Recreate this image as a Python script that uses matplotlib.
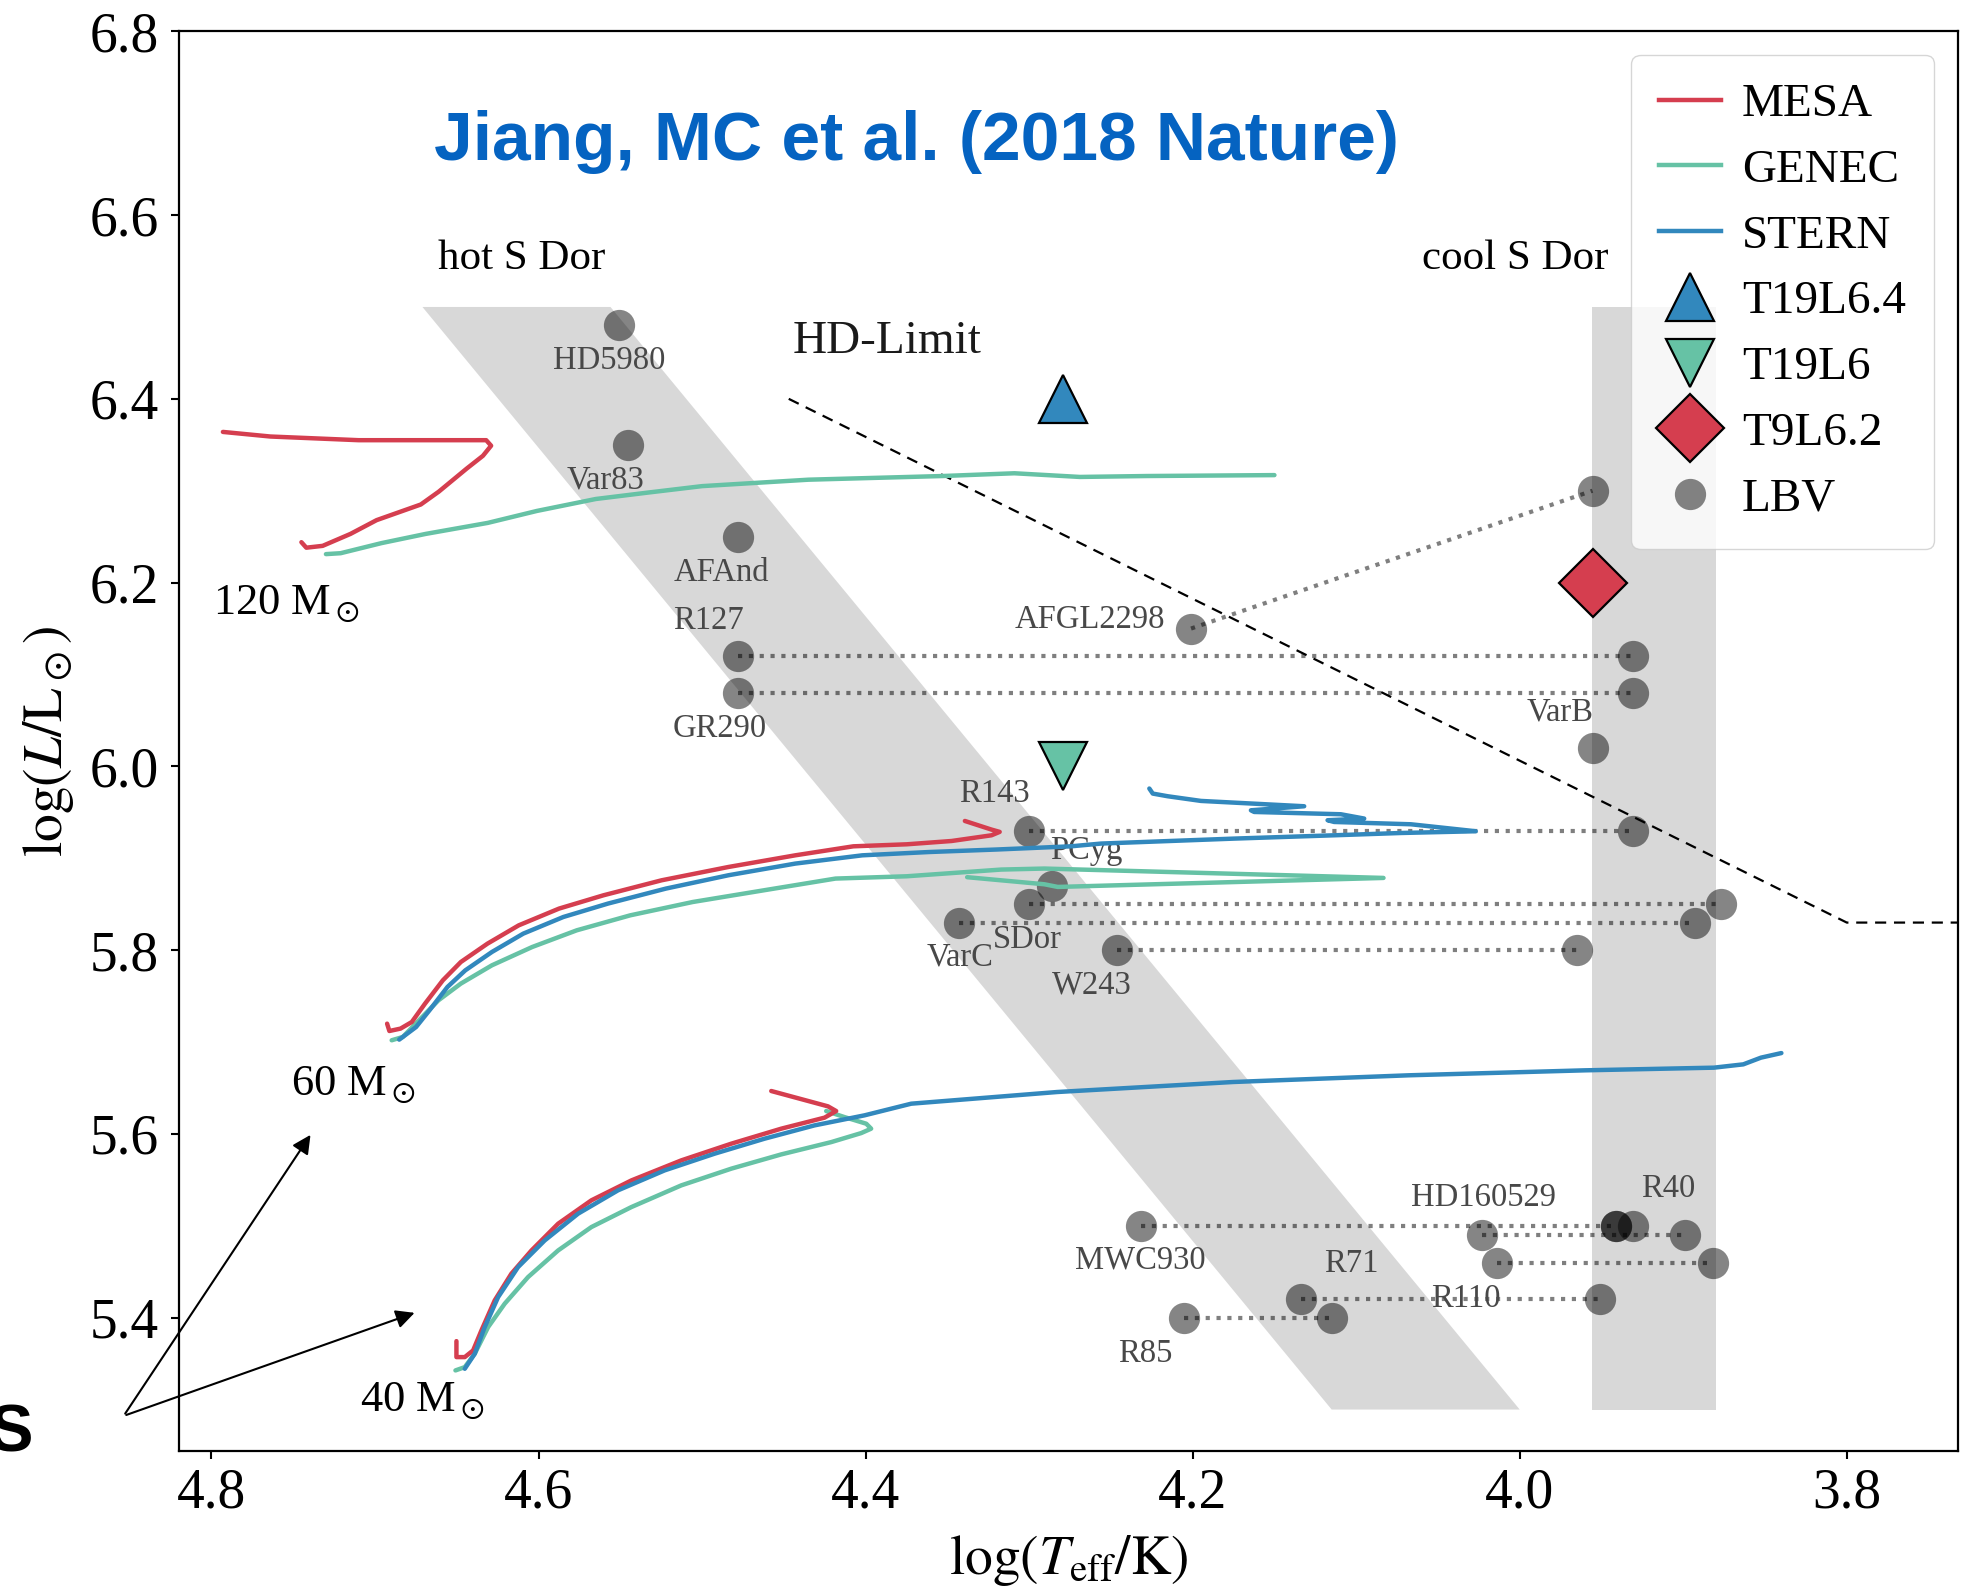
import matplotlib
matplotlib.use("Agg")
import matplotlib.pyplot as plt
from matplotlib.lines import Line2D
from matplotlib.patches import Polygon

plt.rcParams.update({
    "font.family": "serif",
    "font.serif": ["Liberation Serif", "DejaVu Serif"],
    "mathtext.fontset": "stix",
    "axes.linewidth": 1.6,
    "xtick.major.width": 1.5, "ytick.major.width": 1.5,
    "xtick.major.size": 6, "ytick.major.size": 6,
    "xtick.major.pad": 6, "ytick.major.pad": 8,
})

RED, GREEN, BLUE = "#D53E4F", "#66C2A5", "#3288BD"
LBV_INK = "#484848"
LBV_FACE = (0, 0, 0, 0.48)

# ---- evolutionary tracks: log Teff, log L ----
MESA_120_T = [4.745, 4.742, 4.732, 4.715, 4.699, 4.672, 4.661, 4.644, 4.634, 4.629, 4.632, 4.710, 4.764, 4.793]
MESA_120_L = [6.244, 6.238, 6.240, 6.253, 6.268, 6.285, 6.299, 6.324, 6.338, 6.349, 6.355, 6.355, 6.359, 6.364]
GENEC_120_T = [4.730, 4.721, 4.696, 4.669, 4.631, 4.601, 4.565, 4.533, 4.500, 4.435, 4.353, 4.309, 4.269, 4.228, 4.150]
GENEC_120_L = [6.231, 6.232, 6.243, 6.253, 6.265, 6.278, 6.291, 6.298, 6.305, 6.312, 6.316, 6.319, 6.315, 6.316, 6.317]

MESA_60_T = [4.6926, 4.6912, 4.6844, 4.6775, 4.6694, 4.6585, 4.6475, 4.6312, 4.6121, 4.5875, 4.5603,
             4.5248, 4.4839, 4.443, 4.4075, 4.3748, 4.3474, 4.323, 4.318, 4.323, 4.3393]
MESA_60_L = [5.720, 5.712, 5.7146, 5.7218, 5.7418, 5.7672, 5.7871, 5.8071, 5.827, 5.8452, 5.8597,
             5.876, 5.8905, 5.9032, 5.913, 5.9152, 5.9188, 5.925, 5.9287, 5.9312, 5.9406]
STERN_60_T = [4.6852, 4.6749, 4.6667, 4.6557, 4.6448, 4.6285, 4.6093, 4.5848, 4.5575, 4.5221, 4.4839,
              4.443, 4.402, 4.3611, 4.3202, 4.2744, 4.256, 4.1746, 4.1135, 4.0727, 4.0269, 4.0666,
              4.1135, 4.1175, 4.0951, 4.1094, 4.1624, 4.1644, 4.1318, 4.1949, 4.2153, 4.2244, 4.2265]
STERN_60_L = [5.7026, 5.7163, 5.7345, 5.7599, 5.778, 5.798, 5.818, 5.8361, 5.8507, 5.867, 5.8815,
              5.8942, 5.9032, 5.9068, 5.9095, 5.913, 5.916, 5.9214, 5.925, 5.9275, 5.9294, 5.937,
              5.9395, 5.9414, 5.9432, 5.9479, 5.9504, 5.9522, 5.9566, 5.9624, 5.9675, 5.9704, 5.9759]
GENEC_60_T = [4.6898, 4.683, 4.6721, 4.6612, 4.6475, 4.6285, 4.6039, 4.5766, 4.5439, 4.5057, 4.462,
              4.4184, 4.3748, 4.3171, 4.2907, 4.0833, 4.2825, 4.2907, 4.3379]
GENEC_60_L = [5.7019, 5.7055, 5.7255, 5.7454, 5.7636, 5.7835, 5.8034, 5.8216, 5.8379, 5.8524, 5.8652,
              5.8779, 5.8804, 5.8877, 5.8888, 5.8786, 5.8688, 5.8717, 5.8794]

MESA_40_T = [4.6502, 4.6502, 4.6451, 4.640, 4.6349, 4.6268, 4.6166, 4.6043, 4.588, 4.5677, 4.5432,
             4.5127, 4.4821, 4.4516, 4.4251, 4.418, 4.423, 4.4577]
MESA_40_L = [5.3745, 5.3571, 5.3571, 5.3644, 5.3862, 5.4188, 5.4479, 5.4732, 5.5023, 5.5277, 5.5494,
             5.5712, 5.5894, 5.6057, 5.6177, 5.6249, 5.630, 5.6467]
STERN_40_T = [4.6451, 4.639, 4.6329, 4.6247, 4.6125, 4.5962, 4.5758, 4.5514, 4.5229, 4.4923, 4.4618,
              4.4312, 4.4007, 4.3721, 4.2829, 4.1753, 4.0677, 3.9602, 3.8813, 3.8633, 3.8525, 3.840]
STERN_40_L = [5.3444, 5.3608, 5.3898, 5.4224, 5.4551, 5.4841, 5.5132, 5.5386, 5.5603, 5.5785, 5.5948,
              5.6093, 5.6202, 5.6329, 5.6456, 5.6565, 5.6638, 5.6692, 5.6721, 5.6757, 5.683, 5.688]
GENEC_40_T = [4.6508, 4.6451, 4.639, 4.6308, 4.6207, 4.6064, 4.588, 4.5677, 4.5432, 4.5127, 4.4821,
              4.4516, 4.421, 4.4027, 4.3966, 4.3996, 4.4129, 4.4241]
GENEC_40_L = [5.3426, 5.3462, 5.3608, 5.3898, 5.4152, 5.4442, 5.4732, 5.4986, 5.5204, 5.544, 5.5622,
              5.5777, 5.5911, 5.6009, 5.6057, 5.6111, 5.6183, 5.6249]

# ---- LBVs: hot / cool states joined by a dotted line ----
PAIR_HOT_T = [4.478, 4.478, 4.201, 4.300, 4.300, 4.343, 4.246, 4.2315, 4.023, 4.014, 4.134, 4.205]
PAIR_HOT_L = [6.12, 6.08, 6.15, 5.93, 5.85, 5.83, 5.80, 5.50, 5.49, 5.46, 5.42, 5.40]
PAIR_COOL_T = [3.931, 3.931, 3.9555, 3.931, 3.877, 3.893, 3.965, 3.941, 3.899, 3.882, 3.951, 4.115]
PAIR_COOL_L = [6.12, 6.08, 6.30, 5.93, 5.85, 5.83, 5.80, 5.50, 5.49, 5.46, 5.42, 5.40]
SINGLE_T = [4.551, 4.545, 4.478, 3.955, 4.286, 3.941, 3.931]
SINGLE_L = [6.48, 6.35, 6.25, 6.02, 5.87, 5.50, 5.50]

LBV_NAMES = ["HD5980", "Var83", "AFAnd", "R127", "GR290", "AFGL2298", "VarB", "R143", "PCyg",
             "SDor", "VarC", "W243", "MWC930", "R85", "R71", "R110", "HD160529", "R40"]
LBV_NAME_T = [4.557, 4.559, 4.488, 4.496, 4.489, 4.263, 3.975, 4.321, 4.265,
              4.301, 4.342, 4.262, 4.232, 4.229, 4.103, 4.033, 4.022, 3.909]
LBV_NAME_L = [6.441, 6.311, 6.211, 6.159, 6.041, 6.160, 6.059, 5.970, 5.908,
              5.811, 5.792, 5.762, 5.462, 5.361, 5.459, 5.421, 5.530, 5.540]

# ---- model snapshots ----
SNAP_NAMES = ["T19L6.4", "T19L6", "T9L6.2"]
SNAP_T = [4.279, 4.279, 3.955]
SNAP_L = [6.40, 6.00, 6.20]

# ---- S Dor strips and HD limit ----
HOT_STRIP_T = [4.671, 4.556, 4.000, 4.115]
HOT_STRIP_L = [6.50, 6.50, 5.30, 5.30]
COOL_STRIP_T = [3.956, 3.880]
COOL_STRIP_L = [5.30, 6.50]
HD_T = [4.447, 3.800, 3.60]
HD_L = [6.400, 5.830, 5.830]


def main():
    fig = plt.figure(figsize=(19.73, 15.89), dpi=100)
    ax = fig.add_axes([0.0906, 0.0869, 0.9018, 0.8934])

    ax.add_patch(Polygon(list(zip(HOT_STRIP_T, HOT_STRIP_L)), closed=True,
                         facecolor="gray", alpha=0.3, edgecolor="none", zorder=1))
    ax.fill_betweenx(COOL_STRIP_L, COOL_STRIP_T[0], COOL_STRIP_T[1],
                     facecolor="gray", alpha=0.3, edgecolor="none", zorder=1)
    ax.plot(HD_T, HD_L, ls=(0, (5, 3.5)), color="k", lw=1.6, zorder=2)

    for th, lh, tc, lc in zip(PAIR_HOT_T, PAIR_HOT_L, PAIR_COOL_T, PAIR_COOL_L):
        ax.plot([th, tc], [lh, lc], ls=(0, (1, 1.6)), color="k", alpha=0.5, lw=3, zorder=2)
    ax.scatter(PAIR_HOT_T + PAIR_COOL_T + SINGLE_T, PAIR_HOT_L + PAIR_COOL_L + SINGLE_L,
               s=22.5 ** 2, c=[LBV_FACE], linewidths=0, zorder=2)
    for name, t, l in zip(LBV_NAMES, LBV_NAME_T, LBV_NAME_L):
        ax.text(t, l, name, fontsize=23.5, color=LBV_INK, ha="center", va="center", zorder=3)

    tracks = [(GENEC_120_T, GENEC_120_L, GREEN), (MESA_120_T, MESA_120_L, RED),
              (GENEC_60_T, GENEC_60_L, GREEN), (STERN_60_T, STERN_60_L, BLUE), (MESA_60_T, MESA_60_L, RED),
              (GENEC_40_T, GENEC_40_L, GREEN), (MESA_40_T, MESA_40_L, RED), (STERN_40_T, STERN_40_L, BLUE)]
    for t, l, c in tracks:
        ax.plot(t, l, color=c, lw=3.2, solid_capstyle="round", solid_joinstyle="round", zorder=4)

    snap_style = [("^", BLUE, 34), ("v", GREEN, 34), ("D", RED, 35)]
    for (m, c, s), t, l in zip(snap_style, SNAP_T, SNAP_L):
        ax.plot(t, l, m, ms=s, mfc=c, mec="k", mew=1.6, zorder=5)

    ax.text(4.610, 6.553, "hot S Dor", fontsize=31, ha="center", va="center")
    ax.text(4.003, 6.553, "cool S Dor", fontsize=31, ha="center", va="center")
    ax.text(4.387, 6.462, "HD-Limit", fontsize=34, ha="center", va="center", color="#1a1a1a")
    ax.text(4.754, 6.177, r"120 M$_\odot$", fontsize=32, ha="center", va="center")
    ax.text(4.713, 5.653, r"60 M$_\odot$", fontsize=32, ha="center", va="center")
    ax.text(4.671, 5.309, r"40 M$_\odot$", fontsize=32, ha="center", va="center")
    ax.text(0.4144, 0.922, "Jiang, MC et al. (2018 Nature)", transform=ax.transAxes,
            fontsize=50, fontweight="bold", color="#0563C1", family="Liberation Sans",
            ha="center", va="center")

    # pointer arrows and cut-off letter from the slide
    for head in [(4.7385, 5.6015), (4.6742, 5.4063)]:
        ax.annotate("", xy=head, xytext=(4.8537, 5.2931), annotation_clip=False,
                    arrowprops=dict(arrowstyle="-|>", color="k", lw=1.5, mutation_scale=28))
    fig.text(0.0167, 0.0868, "S", fontsize=48, fontweight="bold", family="Liberation Sans",
             ha="right", va="baseline")

    ax.set_xlim(4.82, 3.732)
    ax.set_ylim(5.255, 6.8)
    ax.set_xticks([4.8, 4.6, 4.4, 4.2, 4.0, 3.8])
    ax.set_yticks([5.4, 5.6, 5.8, 6.0, 6.2, 6.4, 6.6, 6.8])
    ax.tick_params(labelsize=40)
    ax.set_xlabel(r"$\log(T_{\rm eff}/{\rm K})$", fontsize=40, labelpad=10)
    ax.set_ylabel(r"$\log(L/{\rm L_\odot})$", fontsize=40, labelpad=10)

    handles = [
        Line2D([], [], color=RED, lw=3.2, label="MESA"),
        Line2D([], [], color=GREEN, lw=3.2, label="GENEC"),
        Line2D([], [], color=BLUE, lw=3.2, label="STERN"),
        Line2D([], [], marker="^", ms=34, mfc=BLUE, mec="k", mew=1.6, ls="none", label="T19L6.4"),
        Line2D([], [], marker="v", ms=34, mfc=GREEN, mec="k", mew=1.6, ls="none", label="T19L6"),
        Line2D([], [], marker="D", ms=35, mfc=RED, mec="k", mew=1.6, ls="none", label="T9L6.2"),
        Line2D([], [], marker="o", ms=22.5, mfc=LBV_FACE, mec="none", ls="none", label="LBV"),
    ]
    leg = ax.legend(handles=handles, loc="upper right", fontsize=34, handlelength=1.3,
                    labelspacing=0.48, handletextpad=0.45, borderpad=0.6)
    leg.set_zorder(10)

    fig.savefig("out.png", dpi=100, facecolor="white")


if __name__ == "__main__":
    main()
